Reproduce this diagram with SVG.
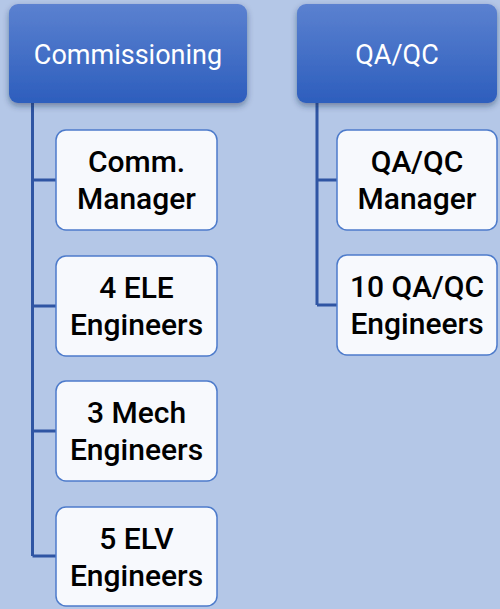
<svg xmlns="http://www.w3.org/2000/svg" width="500" height="609" viewBox="0 0 500 609">
<defs>
<linearGradient id="hg" x1="0" y1="0" x2="0" y2="1">
<stop offset="0" stop-color="#5b81d0"/>
<stop offset="1" stop-color="#2d5ebd"/>
</linearGradient>
<filter id="sh" x="-10%" y="-10%" width="120%" height="130%">
<feDropShadow dx="0" dy="3" stdDeviation="3" flood-color="#1a2a50" flood-opacity="0.45"/>
</filter>
<style>
.hdr{fill:url(#hg);filter:url(#sh);}
.ht{font-family:Roboto,"Liberation Sans",sans-serif;font-size:27px;fill:#ffffff;text-anchor:middle;}
.box{fill:#f7f9fd;stroke:#4d7bcb;stroke-width:1.5;}
.bt{font-family:Roboto,"Liberation Sans",sans-serif;font-size:30px;font-weight:500;fill:#000000;text-anchor:middle;}
.con{fill:none;stroke:#2f55a3;stroke-width:3;}
</style>
</defs>
<rect width="500" height="609" fill="#b4c7e7"/>
<g id="connectors">
<path class="con" d="M32.5 103 V556 M32.5 180 H56 M32.5 306 H56 M32.5 431 H56 M32.5 556 H56"/>
<path class="con" d="M317 103 V305 M317 180 H337 M317 305 H337"/>
</g>
<g id="commissioning">
<rect class="hdr" x="9" y="4" width="238" height="99" rx="9"/>
<text class="ht" x="128" y="64">Commissioning</text>
</g>
<g id="qaqc">
<rect class="hdr" x="297" y="4" width="200" height="99" rx="9"/>
<text class="ht" x="397" y="64">QA/QC</text>
</g>
<g id="comm-manager">
<rect class="box" x="56" y="130" width="161" height="100" rx="10"/>
<text class="bt" x="136.5" y="172">Comm.</text>
<text class="bt" x="136.5" y="209">Manager</text>
</g>
<g id="ele-engineers">
<rect class="box" x="56" y="256" width="161" height="100" rx="10"/>
<text class="bt" x="136.5" y="298">4 ELE</text>
<text class="bt" x="136.5" y="335">Engineers</text>
</g>
<g id="mech-engineers">
<rect class="box" x="56" y="381" width="161" height="100" rx="10"/>
<text class="bt" x="136.5" y="423">3 Mech</text>
<text class="bt" x="136.5" y="460">Engineers</text>
</g>
<g id="elv-engineers">
<rect class="box" x="56" y="507" width="161" height="99" rx="10"/>
<text class="bt" x="136.5" y="549">5 ELV</text>
<text class="bt" x="136.5" y="586">Engineers</text>
</g>
<g id="qaqc-manager">
<rect class="box" x="337" y="130" width="160" height="100" rx="10"/>
<text class="bt" x="417" y="172">QA/QC</text>
<text class="bt" x="417" y="209">Manager</text>
</g>
<g id="qaqc-engineers">
<rect class="box" x="337" y="255" width="160" height="100" rx="10"/>
<text class="bt" x="417" y="297">10 QA/QC</text>
<text class="bt" x="417" y="334">Engineers</text>
</g>
</svg>
